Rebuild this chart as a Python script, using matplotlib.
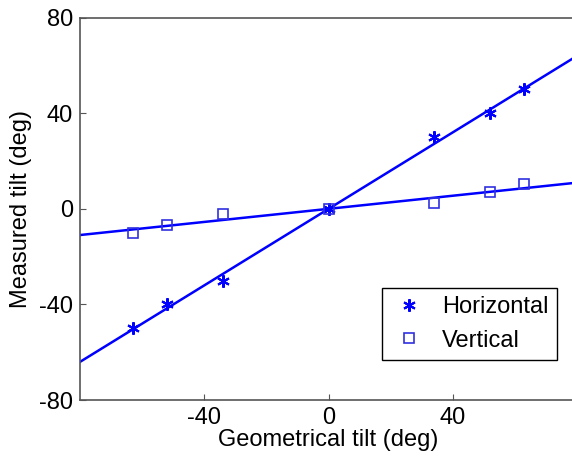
import numpy as np
import matplotlib
matplotlib.use("Agg")
import matplotlib.pyplot as plt

plt.rcParams['font.family'] = ['Liberation Sans', 'DejaVu Sans']
plt.rcParams['axes.unicode_minus'] = False

# measured data
geo_tilt = [-63, -52, -34, 0, 34, 52, 63]
horiz = [-50, -40, -30, 0, 30, 40, 50]
vert = [-10, -6.7, -2, 0, 2.5, 7, 10.5]

# linear fits (slope through origin)
fit_x = [-80, 80]
horiz_slope = 0.80
vert_slope = 0.137

fig = plt.figure(figsize=(5.72, 4.62), dpi=100)
ax = fig.add_axes([0.14, 0.134, 0.869, 0.828])

blue = '#0000ff'
ax.plot(fit_x, [horiz_slope * v for v in fit_x], color=blue, lw=1.8)
ax.plot(fit_x, [vert_slope * v for v in fit_x], color=blue, lw=1.8)
ax.plot(geo_tilt, horiz, ls='none', marker=(6, 2, 0), ms=9, mew=1.5,
        color=blue, label='Horizontal')
ax.plot(geo_tilt, vert, ls='none', marker='s', ms=7, mfc='none', mew=1.2,
        color='#3030e0', label='Vertical')

ax.set_xlim(-80, 80)
ax.set_ylim(-80, 80)
ax.set_xticks([-40, 0, 40])
ax.set_yticks([-80, -40, 0, 40, 80])
ax.tick_params(direction='in', labelsize=17, length=4, pad=5, color='#555555')
for s in ax.spines.values():
    s.set_color('#555555')
    s.set_linewidth(1.2)

ax.set_xlabel('Geometrical tilt (deg)', fontsize=17, labelpad=0)
ax.set_ylabel('Measured tilt (deg)', fontsize=17, labelpad=5)

leg = ax.legend(loc='lower left', bbox_to_anchor=(382 / 572, 1 - 360 / 462),
                bbox_transform=fig.transFigure, fontsize=17, fancybox=False,
                framealpha=1, edgecolor='black', borderpad=0.35,
                borderaxespad=0, handlelength=1.6, handletextpad=0.6,
                labelspacing=0.5)
leg.get_frame().set_linewidth(1.0)

fig.savefig('out.png', dpi=100)
